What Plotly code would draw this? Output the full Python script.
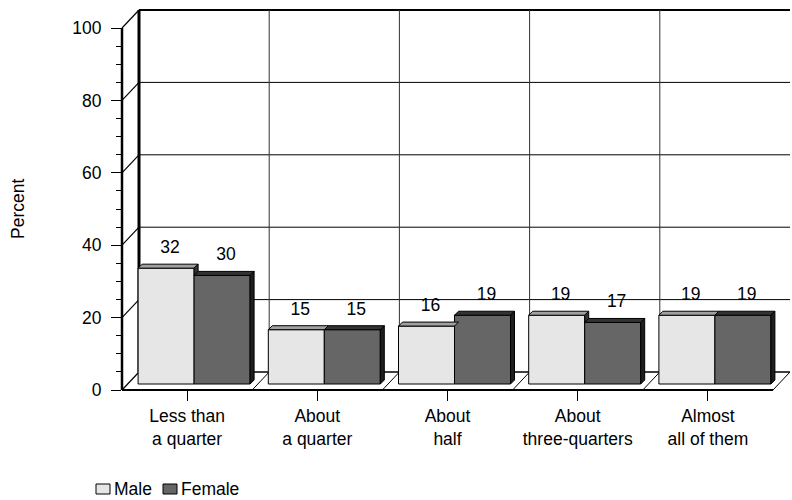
import plotly.graph_objects as go

# ---------------- data ----------------
categories = ["Less than<br>a quarter", "About<br>a quarter", "About<br>half",
              "About<br>three-quarters", "Almost<br>all of them"]
male = [32, 15, 16, 19, 19]
female = [30, 15, 19, 17, 19]
y_ticks = [0, 20, 40, 60, 80, 100]
y_minor = [v for v in range(0, 101, 5) if v % 20 != 0]

# ---------------- geometry (style) ----------------
W, H = 792, 500
ML, MR, MT, MB = 122, 0, 6, 110
PW, PH = W - ML - MR, H - MT - MB
PXX, PXY = 130.2, 3.62            # pixels per unit
X0 = -0.5
x_range = [X0, X0 + PW / PXX]
y_range = [0, PH / PXY]
DX, DY = 17 / PXX, 18 / PXY       # wall depth offset
BX, BY = 7 / PXX, 6 / PXY         # bar front plane offset
BW = 56 / PXX                     # bar width
bdx, bdy = 4 / PXX, 4 / PXY       # bar depth
FONT = "Liberation Sans, Arial, sans-serif"
FS = 17.5

n = len(categories)
idx = list(range(n))
xm = [i + BX - BW / 2 for i in idx]
xf = [i + BX + BW / 2 for i in idx]
ymax = y_ticks[-1]

fig = go.Figure()
fig.add_trace(go.Bar(x=xm, y=male, base=BY, width=BW, name="Male",
                     marker=dict(color="#e6e6e6", line=dict(color="black", width=1)),
                     showlegend=False))
fig.add_trace(go.Bar(x=xf, y=female, base=BY, width=BW, name="Female",
                     marker=dict(color="#666666", line=dict(color="black", width=1)),
                     showlegend=False))

# value labels
lab_x = [v + 0.03 for v in xm] + [v + 0.03 for v in xf]
lab_y = [BY + v + 5.4 for v in male] + [BY + v + 5.4 for v in female]
lab_t = [str(v) for v in male] + [str(v) for v in female]
fig.add_trace(go.Scatter(x=lab_x, y=lab_y, text=lab_t, mode="text",
                         textfont=dict(family=FONT, size=FS, color="black"),
                         showlegend=False, hoverinfo="skip"))

def fx(x):
    return (x - x_range[0]) / (x_range[1] - x_range[0])
def fy(y):
    return (y - y_range[0]) / (y_range[1] - y_range[0])

shapes = []
def line(xa, ya, xb, yb, w=1, c="black"):
    # decoration lines in paper coordinates (not clipped at the plot edge)
    shapes.append(dict(type="line", xref="paper", yref="paper",
                       x0=fx(xa), y0=fy(ya), x1=fx(xb), y1=fy(yb),
                       line=dict(color=c, width=w), layer="below"))

def poly(pts, fill, w=1):
    p = "M " + " L ".join(f"{a},{b}" for a, b in pts) + " Z"
    shapes.append(dict(type="path", xref="x", yref="y", path=p, fillcolor=fill,
                       line=dict(color="black", width=w), layer="above"))

right = X0 + n
# back wall horizontal gridlines
for v in y_ticks[1:]:
    line(X0 + DX, v + DY, right + DX, v + DY, w=2 if v == ymax else 1)
# back floor line
line(X0 + DX, DY, right + DX, DY, w=1.5)
# back wall vertical gridlines
for k in range(1, n):
    line(X0 + k + DX, DY, X0 + k + DX, ymax + DY, w=1, c="#333333")
# back wall left edge
line(X0 + DX, DY, X0 + DX, ymax + DY, w=3)
# diagonals at y ticks
for v in y_ticks:
    line(X0, v, X0 + DX, v + DY, w=1.2)
# floor diagonals
for k in range(1, n + 1):
    line(X0 + k, 0, X0 + k + DX, DY, w=1)
# front axes
line(X0, 0, right, 0, w=2)
line(X0, 0, X0, ymax, w=2.5)

# bar 3D faces
for i in idx:
    tm, tf = BY + male[i], BY + female[i]
    l, r = xm[i] - BW / 2, xm[i] + BW / 2
    poly([(l, tm), (r, tm), (r + bdx, tm + bdy), (l + bdx, tm + bdy)], "#a0a0a0")
    if tm > tf:
        poly([(r, tf), (r, tm), (r + bdx, tm + bdy), (r + bdx, tf + bdy)], "#333333")
    l2, r2 = xf[i] - BW / 2, xf[i] + BW / 2
    poly([(l2, tf), (r2, tf), (r2 + bdx, tf + bdy), (l2 + bdx, tf + bdy)], "#333333")
    poly([(r2, BY), (r2, tf), (r2 + bdx, tf + bdy), (r2 + bdx, BY + bdy)], "#1e1e1e")

# manual legend
def px(xp):
    return (xp - ML) / PW
def py(yp):
    return (H - MB - yp) / PH
legend_items = [("Male", "#e6e6e6", 96, 112), ("Female", "#666666", 163, 179)]
annotations = []
for name, col, sx, tx in legend_items:
    shapes.append(dict(type="rect", xref="paper", yref="paper",
                       x0=px(sx), x1=px(sx + 14), y0=py(484), y1=py(494),
                       fillcolor=col, line=dict(color="black", width=1)))
    annotations.append(dict(text=name, xref="paper", yref="paper", x=px(tx), y=py(489),
                            xanchor="left", yanchor="middle", showarrow=False,
                            font=dict(family=FONT, size=FS, color="black")))
annotations.append(dict(text="Percent", xref="paper", yref="paper", x=px(18), y=py(209),
                        xanchor="center", yanchor="middle", textangle=-90, showarrow=False,
                        font=dict(family=FONT, size=FS, color="black")))

fig.update_layout(
    width=W, height=H, margin=dict(l=ML, r=MR, t=MT, b=MB, pad=0),
    paper_bgcolor="white", plot_bgcolor="white",
    barmode="overlay", showlegend=False,
    shapes=shapes, annotations=annotations,
    font=dict(family=FONT, size=FS, color="black"),
    xaxis=dict(range=x_range, tickmode="array", tickvals=idx, ticktext=categories,
               ticks="outside", ticklen=10, tickwidth=1, tickcolor="black",
               showgrid=False, zeroline=False, showline=False,
               tickfont=dict(family=FONT, size=FS, color="black")),
    yaxis=dict(range=y_range, tickmode="array", tickvals=y_ticks,
               ticktext=[str(v) for v in y_ticks],
               ticks="outside", ticklen=10, tickwidth=1, tickcolor="black",
               ticklabelstandoff=6,
               minor=dict(tickmode="array", tickvals=y_minor, ticks="outside",
                          ticklen=5, tickwidth=1, tickcolor="black"),
               showgrid=False, zeroline=False, showline=False,
               tickfont=dict(family=FONT, size=FS, color="black")),
)

fig.write_html("out.html")
